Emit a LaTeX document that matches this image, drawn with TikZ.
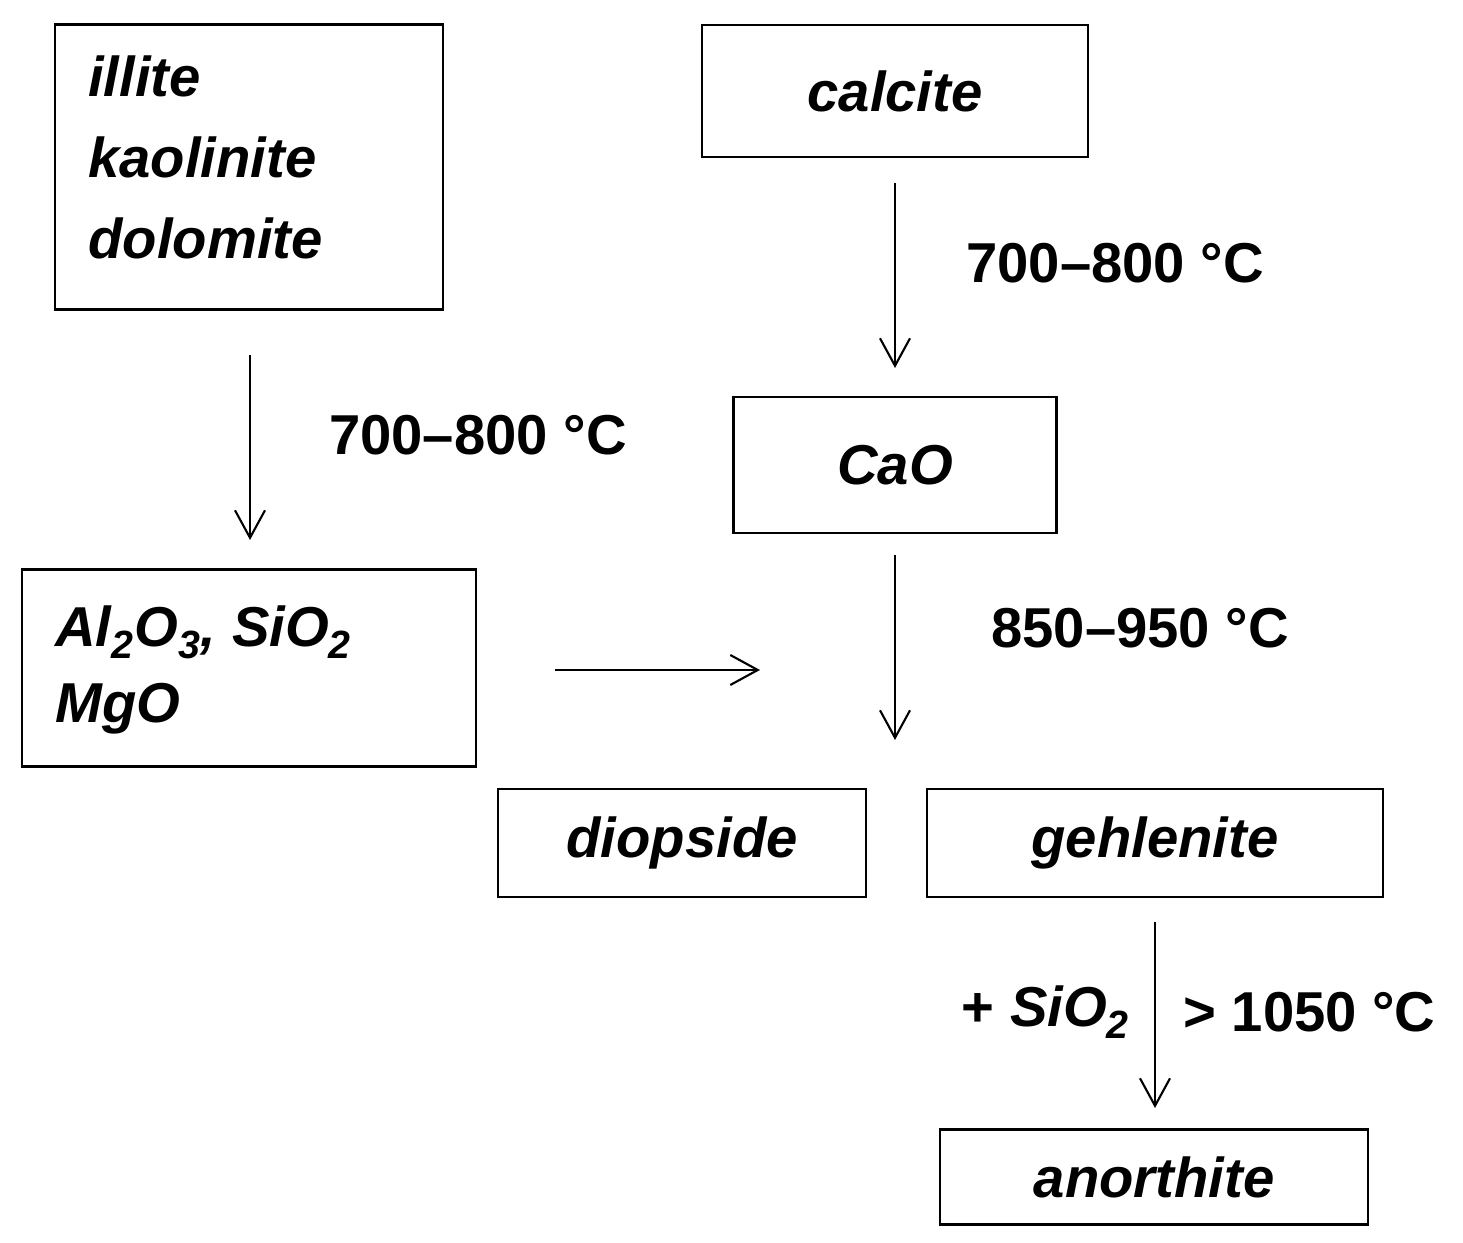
\documentclass[tikz,border=0pt]{standalone}
\usepackage{fontspec}
\setmainfont{Liberation Sans}
\usetikzlibrary{arrows.meta}
\tikzset{
 box/.style={draw,line width=1.2pt,inner sep=0pt,font=\fontsize{32}{38}\selectfont\bfseries\itshape},
 lbl/.style={font=\fontsize{32}{38}\selectfont\bfseries,inner sep=0pt},
 arr/.style={line width=0.8pt,-{Straight Barb[length=0.55cm,width=0.6cm,line width=1.2pt]}}
}
\begin{document}
\begin{tikzpicture}[x=0.02cm,y=-0.02cm]
\useasboundingbox (0,0) rectangle (1463,1243);
\node[box,minimum width=7.76cm,minimum height=5.7cm] (ill) at (249,167) {};
\node[font=\fontsize{32}{40}\selectfont\bfseries\itshape,align=left,anchor=north west,inner sep=0pt] at (88,55) {illite\\[0.22cm]kaolinite\\[0.22cm]dolomite};
\node[box,minimum width=7.72cm,minimum height=2.64cm] (cal) at (895,91) {calcite};
\node[box,minimum width=6.46cm,minimum height=2.72cm] (cao) at (895,465) {CaO};
\node[box,minimum width=9.08cm,minimum height=3.94cm] (al) at (249,668) {};
\node[font=\fontsize{32}{40}\selectfont\bfseries\itshape,align=left,anchor=north west,inner sep=0pt] at (55,605) {Al\textsubscript{2}O\textsubscript{3}, SiO\textsubscript{2}\\[0.12cm]MgO};
\node[box,minimum width=7.36cm,minimum height=2.16cm] (dio) at (682,843) {diopside};
\node[box,minimum width=9.12cm,minimum height=2.16cm] (geh) at (1155,843) {gehlenite};
\node[box,minimum width=8.56cm,minimum height=1.9cm] (ano) at (1154,1177) {anorthite};
\coordinate (a1) at (250,355); \coordinate (a2) at (250,540);
\coordinate (b1) at (895,183); \coordinate (b2) at (895,368);
\coordinate (c1) at (895,555); \coordinate (c2) at (895,740);
\coordinate (h1) at (555,670); \coordinate (h2) at (760,670);
\coordinate (d1) at (1155,922); \coordinate (d2) at (1155,1108);
\draw[arr] (a1) -- (a2);
\draw[arr] (b1) -- (b2);
\draw[arr] (c1) -- (c2);
\draw[arr] (h1) -- (h2);
\draw[arr] (d1) -- (d2);
\node[lbl] (t1) at (478,435) {700--800 °C};
\node[lbl] (t2) at (1115,263) {700--800 °C};
\node[lbl] (t3) at (1140,628) {850--950 °C};
\node[lbl,anchor=east] (t4) at (1130,1012) {+ \textit{SiO\textsubscript{2}}};
\node[lbl,anchor=west] (t5) at (1183,1012) {> 1050 °C};
\end{tikzpicture}
\end{document}
